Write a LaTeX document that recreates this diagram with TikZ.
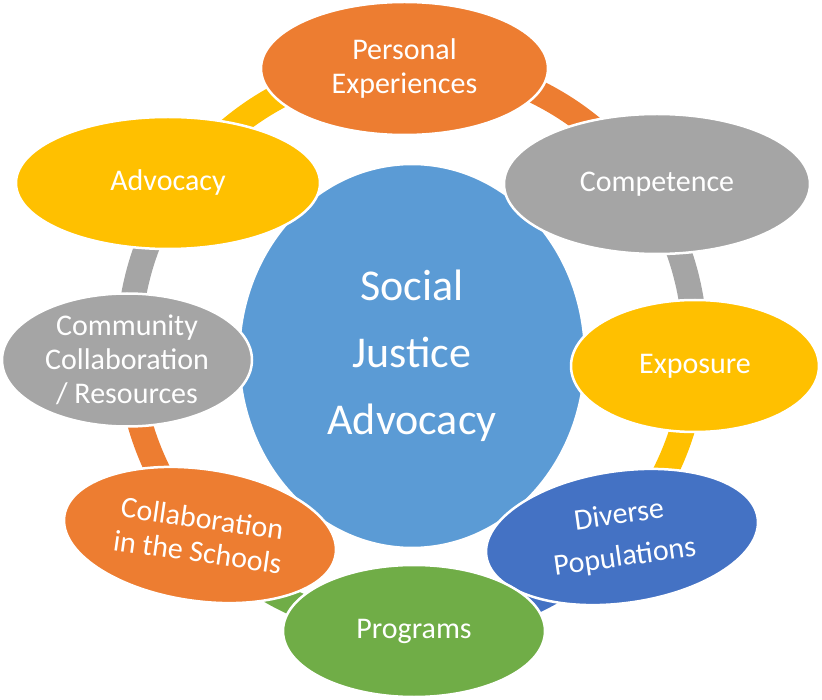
\documentclass[tikz,border=0pt]{standalone}
\usepackage{fontspec}
\setmainfont{Carlito}
\usetikzlibrary{shapes.geometric}
\definecolor{corange}{HTML}{ED7D31}
\definecolor{cgray}{HTML}{A5A5A5}
\definecolor{cyellow}{HTML}{FFC000}
\definecolor{cblue}{HTML}{4472C4}
\definecolor{cgreen}{HTML}{70AD47}
\definecolor{ccenter}{HTML}{5B9BD5}
\begin{document}
\begin{tikzpicture}[x=1pt,y=1pt,
  bubble/.style={ellipse, draw=white, line width=2.5pt, inner sep=0pt, text=white,
    align=center, font=\fontsize{30}{34}\selectfont},
  hub/.style={ellipse, draw=white, line width=2.5pt, inner sep=0pt, text=white,
    align=center, font=\fontsize{44}{67}\selectfont},
  ring/.style={line width=25pt, draw=#1}]
\useasboundingbox (0,0) rectangle (822,-700);
% ring
\coordinate (rc) at (412,-346);
\path (rc) ++(91.5:283) coordinate (r1);
\path (rc) ++(33.5:283) coordinate (r2);
\path (rc) ++(-4:283) coordinate (r3);
\path (rc) ++(-42.3:283) coordinate (r4);
\path (rc) ++(-89.6:283) coordinate (r5);
\path (rc) ++(-138.3:283) coordinate (r6);
\path (rc) ++(-177.2:283) coordinate (r7);
\path (rc) ++(146.3:283) coordinate (r8);
\draw[ring=corange] (r1) arc[start angle=91.5, end angle=33.5, radius=283pt];
\draw[ring=cgray] (r2) arc[start angle=33.5, end angle=-4, radius=283pt];
\draw[ring=cyellow] (r3) arc[start angle=-4, end angle=-42.3, radius=283pt];
\draw[ring=cblue] (r4) arc[start angle=-42.3, end angle=-89.6, radius=283pt];
\draw[ring=cgreen] (r5) arc[start angle=-89.6, end angle=-138.3, radius=283pt];
\draw[ring=corange] (r6) arc[start angle=-138.3, end angle=-177.2, radius=283pt];
\draw[ring=cgray] (r7) arc[start angle=-177.2, end angle=-213.7, radius=283pt];
\draw[ring=cyellow] (r8) arc[start angle=146.3, end angle=91.5, radius=283pt];
% centre
\node[hub, fill=ccenter, minimum width=346pt, minimum height=384pt] (sja) at (412,-356) {Social\\Justice\\Advocacy};
% bubbles
\node[bubble, fill=corange, minimum width=287pt, minimum height=133pt] (pe) at (404.5,-68.5) {Personal\\Experiences};
\node[bubble, fill=cgray, minimum width=306pt, minimum height=140pt] (co) at (657,-184) {Competence};
\node[bubble, fill=cyellow, minimum width=248pt, minimum height=132pt] (ex) at (695,-366) {Exposure};
\node[bubble, fill=cblue, minimum width=274pt, minimum height=132pt, rotate=8,
      font=\fontsize{30}{42}\selectfont] (dp) at (622,-537) {Diverse\\Populations};
\node[bubble, fill=corange, minimum width=274pt, minimum height=132pt, rotate=-8] (cs) at (200,-535) {Collaboration\\in the Schools};
\node[bubble, fill=cgray, minimum width=250pt, minimum height=133pt] (cc) at (127,-360) {Community\\Collaboration\\/ Resources};
\node[bubble, fill=cyellow, minimum width=304pt, minimum height=132pt] (ad) at (168,-183) {Advocacy};
\node[bubble, fill=cgreen, minimum width=262pt, minimum height=132pt] (pr) at (414,-631) {Programs};
\end{tikzpicture}
\end{document}
